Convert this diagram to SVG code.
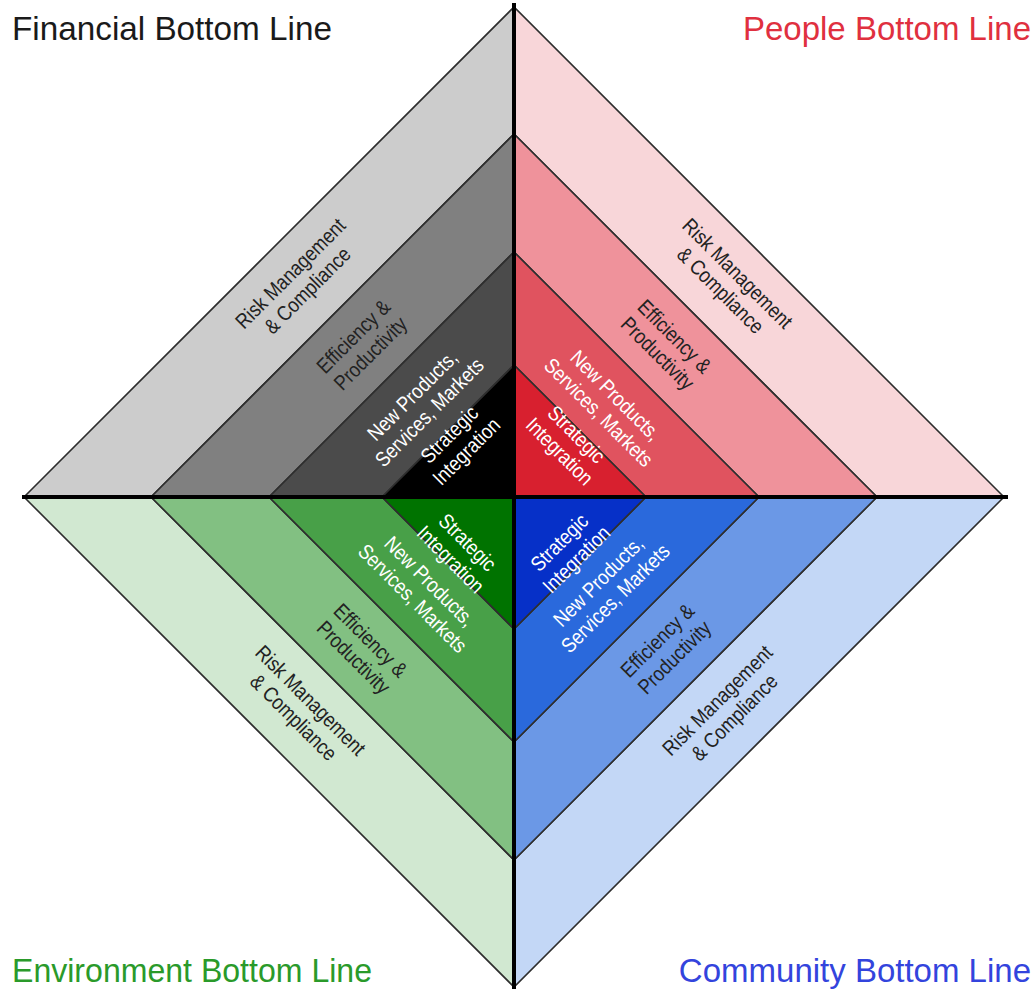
<svg xmlns="http://www.w3.org/2000/svg" width="1036" height="989" viewBox="0 0 1036 989">
<style>
.r{stroke:#2e2e2e;stroke-width:1.6;stroke-linejoin:miter}
.t{font-family:"Liberation Sans",Arial,sans-serif;font-size:21px;text-anchor:middle}
.d{fill:#222}
.w{fill:#ffffff}
.title{font-family:"Liberation Sans",Arial,sans-serif;font-size:33px}
</style>
<rect width="1036" height="989" fill="#ffffff"/>
<!-- Financial (top-left) -->
<g id="financial-risk"><polygon class="r" fill="#cccccc" points="24,497 514,7 514,134 151,497"/>
<text class="t d" transform="translate(299,282) rotate(-45) scale(0.86,1)"><tspan x="0" y="-5">Risk Management</tspan><tspan x="0" y="19">&amp; Compliance</tspan></text></g>
<g id="financial-efficiency"><polygon class="r" fill="#808080" points="151,497 514,134 514,252 269,497"/>
<text class="t d" transform="translate(362,345) rotate(-45) scale(0.86,1)"><tspan x="0" y="-5">Efficiency &amp;</tspan><tspan x="0" y="19">Productivity</tspan></text></g>
<g id="financial-new"><polygon class="r" fill="#4b4b4b" points="269,497 514,252 514,365 382,497"/>
<text class="t w" transform="translate(421,404) rotate(-45) scale(0.86,1)"><tspan x="0" y="-5">New Products,</tspan><tspan x="0" y="19">Services, Markets</tspan></text></g>
<g id="financial-strategic"><polygon class="r" fill="#000000" points="382,497 514,365 514,497"/>
<text class="t w" transform="translate(458,443) rotate(-45) scale(0.86,1)"><tspan x="0" y="-5">Strategic</tspan><tspan x="0" y="19">Integration</tspan></text></g>
<!-- People (top-right) -->
<g id="people-risk"><polygon class="r" fill="#f8d6d9" points="1004,497 514,7 514,134 877,497"/>
<text class="t d" transform="translate(729,282) rotate(45) scale(0.86,1)"><tspan x="0" y="-5">Risk Management</tspan><tspan x="0" y="19">&amp; Compliance</tspan></text></g>
<g id="people-efficiency"><polygon class="r" fill="#ef929b" points="877,497 514,134 514,252 759,497"/>
<text class="t d" transform="translate(666,345) rotate(45) scale(0.86,1)"><tspan x="0" y="-5">Efficiency &amp;</tspan><tspan x="0" y="19">Productivity</tspan></text></g>
<g id="people-new"><polygon class="r" fill="#e0535f" points="759,497 514,252 514,365 646,497"/>
<text class="t w" transform="translate(607,404) rotate(45) scale(0.86,1)"><tspan x="0" y="-5">New Products,</tspan><tspan x="0" y="19">Services, Markets</tspan></text></g>
<g id="people-strategic"><polygon class="r" fill="#d8202f" points="646,497 514,365 514,497"/>
<text class="t w" transform="translate(568,443) rotate(45) scale(0.86,1)"><tspan x="0" y="-5">Strategic</tspan><tspan x="0" y="19">Integration</tspan></text></g>
<!-- Environment (bottom-left) -->
<g id="environment-risk"><polygon class="r" fill="#d1e8d1" points="24,497 514,987 514,860 151,497"/>
<text class="t d" transform="translate(302,709) rotate(45) scale(0.86,1)"><tspan x="0" y="-5">Risk Management</tspan><tspan x="0" y="19">&amp; Compliance</tspan></text></g>
<g id="environment-efficiency"><polygon class="r" fill="#82c082" points="151,497 514,860 514,742 269,497"/>
<text class="t d" transform="translate(362,649) rotate(45) scale(0.86,1)"><tspan x="0" y="-5">Efficiency &amp;</tspan><tspan x="0" y="19">Productivity</tspan></text></g>
<g id="environment-new"><polygon class="r" fill="#48a048" points="269,497 514,742 514,629 382,497"/>
<text class="t w" transform="translate(421,590) rotate(45) scale(0.86,1)"><tspan x="0" y="-5">New Products,</tspan><tspan x="0" y="19">Services, Markets</tspan></text></g>
<g id="environment-strategic"><polygon class="r" fill="#007300" points="382,497 514,629 514,497"/>
<text class="t w" transform="translate(459,551) rotate(45) scale(0.86,1)"><tspan x="0" y="-5">Strategic</tspan><tspan x="0" y="19">Integration</tspan></text></g>
<!-- Community (bottom-right) -->
<g id="community-risk"><polygon class="r" fill="#c3d7f6" points="1004,497 514,987 514,860 877,497"/>
<text class="t d" transform="translate(726,709) rotate(-45) scale(0.86,1)"><tspan x="0" y="-5">Risk Management</tspan><tspan x="0" y="19">&amp; Compliance</tspan></text></g>
<g id="community-efficiency"><polygon class="r" fill="#6b98e6" points="877,497 514,860 514,742 759,497"/>
<text class="t d" transform="translate(666,649) rotate(-45) scale(0.86,1)"><tspan x="0" y="-5">Efficiency &amp;</tspan><tspan x="0" y="19">Productivity</tspan></text></g>
<g id="community-new"><polygon class="r" fill="#2a69dc" points="759,497 514,742 514,629 646,497"/>
<text class="t w" transform="translate(607,590) rotate(-45) scale(0.86,1)"><tspan x="0" y="-5">New Products,</tspan><tspan x="0" y="19">Services, Markets</tspan></text></g>
<g id="community-strategic"><polygon class="r" fill="#0630c8" points="646,497 514,629 514,497"/>
<text class="t w" transform="translate(568,551) rotate(-45) scale(0.86,1)"><tspan x="0" y="-5">Strategic</tspan><tspan x="0" y="19">Integration</tspan></text></g>
<!-- axes -->
<g id="connectors" stroke="#000000" stroke-width="4">
<line x1="514" y1="3" x2="514" y2="989"/>
<line x1="22" y1="497" x2="1008" y2="497"/>
</g>
<!-- titles -->
<g id="title-financial"><text class="title" x="12" y="40" fill="#1a1a1a" textLength="320" lengthAdjust="spacingAndGlyphs">Financial Bottom Line</text></g>
<g id="title-people"><text class="title" x="1031" y="40" fill="#e0303f" text-anchor="end">People Bottom Line</text></g>
<g id="title-environment"><text class="title" x="12" y="982" fill="#2a9a2a" textLength="360" lengthAdjust="spacingAndGlyphs">Environment Bottom Line</text></g>
<g id="title-community"><text class="title" x="1031" y="982" fill="#3344dd" text-anchor="end">Community Bottom Line</text></g>
</svg>
